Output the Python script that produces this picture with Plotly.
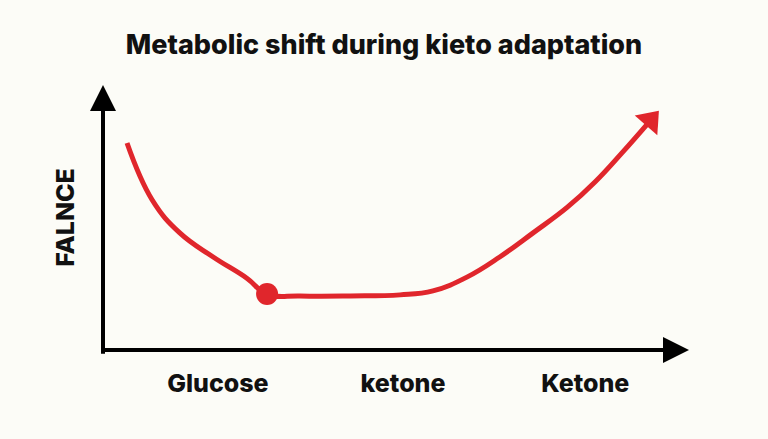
import plotly.graph_objects as go

# Conceptual data (arbitrary units 0-100 on both axes)
curve_x = [4.1, 8.4, 13.1, 18.8, 24.6, 28.0, 33.6, 42.2, 50.7, 56.3, 62.1, 67.7, 73.4, 79.2, 84.0, 88.6, 93.4]
curve_y = [78.1, 56.6, 44.2, 35.1, 27.0, 21.0, 20.4, 20.4, 20.8, 22.3, 27.5, 35.1, 44.2, 53.8, 63.5, 74.5, 86.6]
dot_x = [28.0]
dot_y = [21.1]
tick_vals = [19.6, 51.2, 82.3]
tick_text = ["Glucose", "ketone", "Ketone"]
title_text = "Metabolic shift during kieto adaptation"
y_label = "FALNCE"

RED = "#e0262c"
BG = "#fcfcf7"
FONT = "Inter"

fig = go.Figure()

# main curve
fig.add_trace(go.Scatter(x=curve_x, y=curve_y, mode="lines",
                         line=dict(color=RED, width=5, shape="spline", smoothing=1.2),
                         hoverinfo="skip", showlegend=False))
# arrowhead at end of curve, oriented along the line
fig.add_trace(go.Scatter(x=curve_x[-2:], y=curve_y[-2:], mode="markers",
                         marker=dict(symbol="triangle-up", size=[0, 26], color=RED, opacity=1,
                                     angleref="previous", line=dict(width=0)),
                         opacity=1, hoverinfo="skip", showlegend=False))
# dot
fig.add_trace(go.Scatter(x=dot_x, y=dot_y, mode="markers",
                         marker=dict(size=22, color=RED, opacity=1, line=dict(width=0)),
                         hoverinfo="skip", showlegend=False))

# axes with arrows
fig.add_annotation(x=0, y=100, ax=0, ay=-2, xref="x", yref="y", axref="x", ayref="y",
                   showarrow=True, arrowhead=2, arrowsize=1.3, arrowwidth=4, arrowcolor="#000",
                   text="")
fig.add_annotation(x=100, y=0, ax=0, ay=0, xref="x", yref="y", axref="x", ayref="y",
                   showarrow=True, arrowhead=2, arrowsize=1.3, arrowwidth=4, arrowcolor="#000",
                   text="")

fig.update_layout(
    width=768, height=439,
    paper_bgcolor=BG, plot_bgcolor=BG,
    margin=dict(l=103, r=79, t=85, b=89),
    title=dict(text=title_text, x=0.5, xanchor="center", y=1 - 45 / 439, yanchor="middle",
               yref="container",
               font=dict(family=FONT, size=27, color="#111", weight=800)),
    xaxis=dict(range=[0, 100], showgrid=False, zeroline=False, showline=False,
               tickvals=tick_vals, ticktext=tick_text, ticks="", ticklabelstandoff=16,
               tickfont=dict(family=FONT, size=25, color="#111", weight=800)),
    yaxis=dict(range=[0, 100], showgrid=False, zeroline=False, showline=False,
               showticklabels=False, ticks="",
               title=dict(text=y_label, standoff=20,
                          font=dict(family=FONT, size=25, color="#111", weight=800))),
)

fig.write_html("out.html")
